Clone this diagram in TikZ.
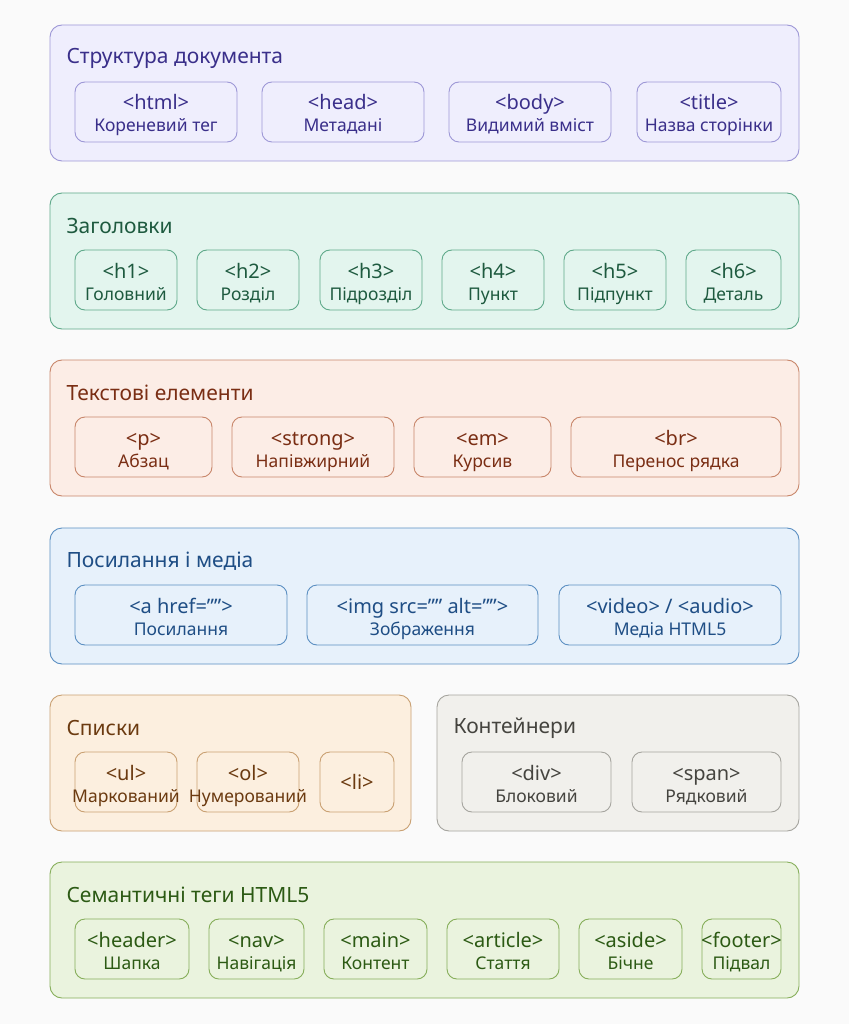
\documentclass[tikz,border=0pt]{standalone}
\usepackage{fontspec}
\setmainfont{Noto Sans}
\newcommand\qq{\symbol{34}}
\begin{document}
\begin{tikzpicture}[x=1pt,y=-1pt,
  grp/.style={rounded corners=12pt,line width=0.9pt},
  itm/.style={rounded corners=10pt,line width=0.9pt},
  ttl/.style={anchor=west,font=\fontsize{21}{23}\selectfont},
  tag/.style={font=\fontsize{20}{22}\selectfont,inner sep=0},
  sub/.style={font=\fontsize{17.5}{19}\selectfont,inner sep=0}]
\definecolor{bg}{HTML}{FAFAFA}
\definecolor{fA}{HTML}{EFEEFD}\definecolor{dA}{HTML}{9D97D6}\definecolor{tA}{HTML}{3A2F8A}
\definecolor{fB}{HTML}{E3F5EE}\definecolor{dB}{HTML}{5FA98A}\definecolor{tB}{HTML}{1E5A3F}
\definecolor{fC}{HTML}{FCEDE6}\definecolor{dC}{HTML}{C8866A}\definecolor{tC}{HTML}{7A2E14}
\definecolor{fD}{HTML}{E7F1FB}\definecolor{dD}{HTML}{5B8FC2}\definecolor{tD}{HTML}{1F4E85}
\definecolor{fE}{HTML}{FCEFDF}\definecolor{dE}{HTML}{C9A072}\definecolor{tE}{HTML}{6B3A10}
\definecolor{fF}{HTML}{F1F0EC}\definecolor{dF}{HTML}{A5A49E}\definecolor{tF}{HTML}{45443F}
\definecolor{fG}{HTML}{EAF3DE}\definecolor{dG}{HTML}{86AE5A}\definecolor{tG}{HTML}{2C5A14}
\fill[bg] (0,0) rectangle (849,1024);
\useasboundingbox (0,0) rectangle (849,1024);
\newcommand\mygrp[7]{%
  \draw[grp,fill=f#6,draw=d#6] (#2,#3) rectangle (#4,#5);
  \node[ttl,text=t#6] (#1) at (#2+13,#3+33) {#7};}
\newcommand\myitm[7]{%
  \draw[itm,fill=f#5,draw=d#5] (#2,#4) rectangle (#3,#4+60);
  \node[tag,text=t#5,anchor=base] (#1) at ({(#2+#3)/2},#4+28) {#6};
  \node[sub,text=t#5,anchor=base] (#1s) at ({(#2+#3)/2},#4+50) {#7};}

\mygrp{g1}{50}{25}{799}{161}{A}{Структура документа}
\myitm{a1}{75}{237}{82}{A}{<html>}{Кореневий тег}
\myitm{a2}{262}{424}{82}{A}{<head>}{Метадані}
\myitm{a3}{449}{611}{82}{A}{<body>}{Видимий вміст}
\myitm{a4}{637}{781}{82}{A}{<title>}{Назва сторінки}

\mygrp{g2}{50}{193}{799}{329}{B}{Заголовки}
\myitm{b1}{75}{177}{250}{B}{<h1>}{Головний}
\myitm{b2}{197}{299}{250}{B}{<h2>}{Розділ}
\myitm{b3}{320}{422}{250}{B}{<h3>}{Підрозділ}
\myitm{b4}{442}{544}{250}{B}{<h4>}{Пункт}
\myitm{b5}{564}{666}{250}{B}{<h5>}{Підпункт}
\myitm{b6}{686}{781}{250}{B}{<h6>}{Деталь}

\mygrp{g3}{50}{360}{799}{496}{C}{Текстові елементи}
\myitm{c1}{75}{212}{417}{C}{<p>}{Абзац}
\myitm{c2}{232}{394}{417}{C}{<strong>}{Напівжирний}
\myitm{c3}{414}{551}{417}{C}{<em>}{Курсив}
\myitm{c4}{571}{781}{417}{C}{<br>}{Перенос рядка}

\mygrp{g4}{50}{528}{799}{664}{D}{Посилання і медіа}
\myitm{d1}{75}{287}{585}{D}{<a href=\qq\qq>}{Посилання}
\myitm{d2}{307}{538}{585}{D}{<img src=\qq\qq{} alt=\qq\qq>}{Зображення}
\myitm{d3}{559}{781}{585}{D}{<video> / <audio>}{Медіа HTML5}

\mygrp{g5}{50}{695}{411}{831}{E}{Списки}
\myitm{e1}{75}{177}{752}{E}{<ul>}{Маркований}
\myitm{e2}{197}{299}{752}{E}{<ol>}{Нумерований}
\draw[itm,fill=fE,draw=dE] (320,752) rectangle (394,812);
\node[tag,text=tE] (e3) at (357,782) {<li>};

\mygrp{g6}{437}{695}{799}{831}{F}{Контейнери}
\myitm{f1}{462}{611}{752}{F}{<div>}{Блоковий}
\myitm{f2}{632}{781}{752}{F}{<span>}{Рядковий}

\mygrp{g7}{50}{862}{799}{998}{G}{Семантичні теги HTML5}
\myitm{h1}{75}{189}{919}{G}{<header>}{Шапка}
\myitm{h2}{209}{304}{919}{G}{<nav>}{Навігація}
\myitm{h3}{324}{427}{919}{G}{<main>}{Контент}
\myitm{h4}{447}{559}{919}{G}{<article>}{Стаття}
\myitm{h5}{579}{682}{919}{G}{<aside>}{Бічне}
\myitm{h6}{702}{781}{919}{G}{<footer>}{Підвал}
\end{tikzpicture}
\end{document}
